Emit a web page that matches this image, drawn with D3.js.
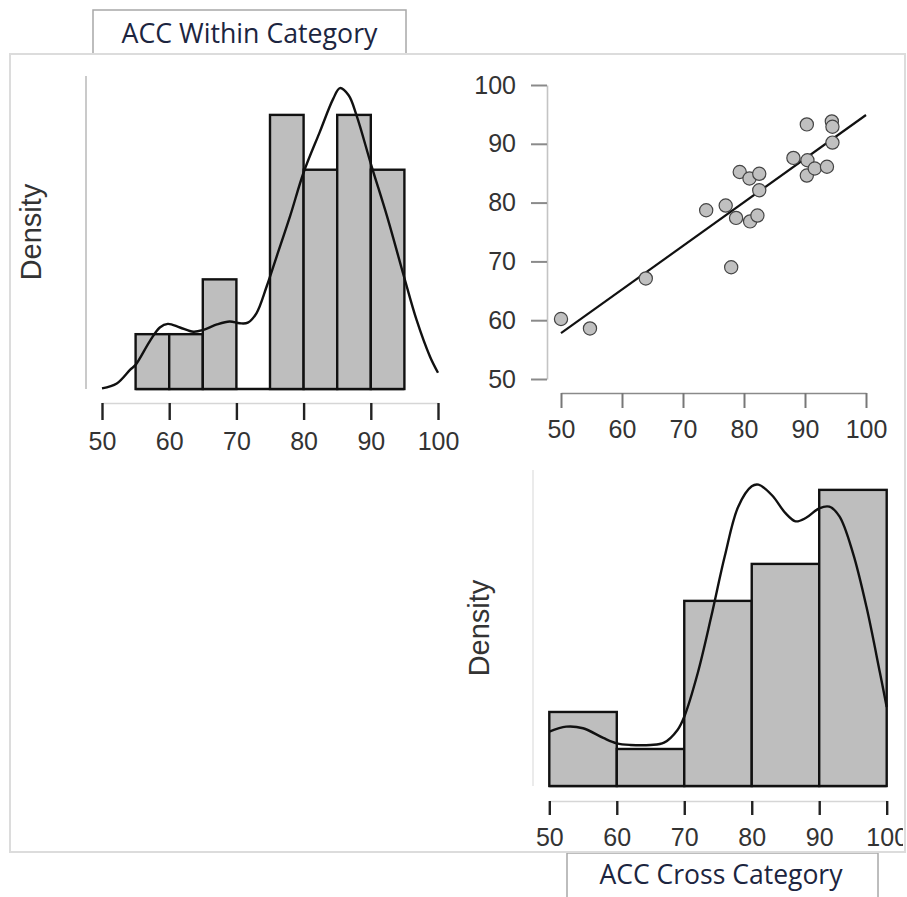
<!DOCTYPE html>
<html>
<head>
<meta charset="utf-8">
<script src="https://cdn.jsdelivr.net/npm/d3@7"></script>
<style>
  html, body { margin: 0; padding: 0; background: #fff; }
  svg { display: block; }
</style>
</head>
<body>
<svg id="chart" width="907" height="897"></svg>
<script>
// ---------------- DATA ----------------
const ticks = [50, 60, 70, 80, 90, 100];

// Histogram of ACC Within Category (bin edges, density per bin)
const withinBins = [55, 60, 65, 70, 75, 80, 85, 90, 95];
const withinDensity = [0.00909, 0.00909, 0.01818, 0, 0.04545, 0.03636, 0.04545, 0.03636];
// Kernel density curve of ACC Within Category
const withinKdeX = [50, 52.2, 54.2, 55, 57.1, 58.6, 59.8, 61.6, 63.6, 65.1, 67.1, 69, 70.5, 71.7, 73, 74.5, 76, 78, 80, 82.4, 84.4, 85.4, 86.7, 87.9, 90.1, 92.4, 95, 96.8, 98.8, 100];
const withinKdeY = [0.0001, 0.0009, 0.0032, 0.0040, 0.0079, 0.0102, 0.0108, 0.0102, 0.0095, 0.0098, 0.0107, 0.0112, 0.0109, 0.0110, 0.0126, 0.0170, 0.0220, 0.0287, 0.0359, 0.0426, 0.0481, 0.0499, 0.0487, 0.0453, 0.0370, 0.0287, 0.0184, 0.0115, 0.0054, 0.0027];

// Histogram of ACC Cross Category
const crossBins = [50, 60, 70, 80, 90, 100];
const crossDensity = [0.00909, 0.004545, 0.02273, 0.02727, 0.03636];
const crossKdeX = [50, 52.5, 55, 58, 60, 62, 65, 67, 69, 70, 72, 74, 76, 78, 80, 81, 83, 85, 86.5, 88, 90, 91.5, 93, 95, 97, 99, 100];
const crossKdeY = [0.00667, 0.00729, 0.00709, 0.0059, 0.00524, 0.00504, 0.00504, 0.00532, 0.00688, 0.00851, 0.01388, 0.0208, 0.0282, 0.0343, 0.0368, 0.0370, 0.0357, 0.0335, 0.0325, 0.0329, 0.0341, 0.0343, 0.0331, 0.0286, 0.0220, 0.0139, 0.0097];

// Scatter: x = ACC Cross Category, y = ACC Within Category
const scatterX = [50.0, 54.75, 63.9, 73.8, 77.0, 77.9, 78.7, 79.3, 80.9, 81.0, 82.2, 82.5, 82.5, 88.1, 90.3, 90.4, 90.3, 91.6, 93.6, 94.4, 94.5, 94.5];
const scatterY = [60.2, 58.6, 67.1, 78.7, 79.5, 69.0, 77.4, 85.2, 84.1, 76.8, 77.8, 84.9, 82.1, 87.6, 93.3, 87.2, 84.6, 85.8, 86.1, 93.8, 92.9, 90.2];
// Fitted regression line endpoints
const fitX = [50, 100];
const fitY = [57.8, 94.9];

const titleTop = "ACC Within Category";
const titleBottom = "ACC Cross Category";
const yLabel = "Density";

// ---------------- DRAW ----------------
const svg = d3.select("#chart");
svg.append("rect").attr("width", 907).attr("height", 897).attr("fill", "#fff");

const tickFont = "'Liberation Sans', Arial, sans-serif";

// Title boxes
function titleBox(x0, y0, x1, y1, text, tx, ty, tlen) {
  svg.append("rect").attr("x", x0).attr("y", y0).attr("width", x1 - x0).attr("height", y1 - y0)
    .attr("fill", "#fff").attr("stroke", "#a8a8a8").attr("stroke-width", 1.5);
  svg.append("text").attr("x", tx).attr("y", ty).attr("text-anchor", "middle")
    .attr("font-family", "'Open Sans', Lato, sans-serif").attr("font-size", 27)
    .attr("fill", "#1c2540").attr("textLength", tlen).attr("lengthAdjust", "spacingAndGlyphs")
    .text(text);
}
titleBox(93, 10, 406, 54, titleTop, 249.5, 43, 256);
titleBox(567, 853, 878, 898, titleBottom, 721, 884, 243);

// Outer frame
svg.append("rect").attr("x", 10).attr("y", 54).attr("width", 895).attr("height", 798)
  .attr("fill", "none").attr("stroke", "#dcdcdc").attr("stroke-width", 2);

svg.append("defs").append("clipPath").attr("id", "frameClip")
  .append("rect").attr("x", 10).attr("y", 54).attr("width", 893).attr("height", 798);

function styleAxis(g, domainColor, tickColor, tickWidth) {
  g.select(".domain").attr("stroke", domainColor).attr("stroke-width", 1.6);
  g.selectAll(".tick line").attr("stroke", tickColor).attr("stroke-width", tickWidth);
  g.selectAll(".tick text").attr("font-family", tickFont).attr("font-size", 25).attr("fill", "#333");
}

function histogram(opts) {
  const x = d3.scaleLinear().domain([50, 100]).range(opts.xRange);
  const y = d3.scaleLinear().domain([0, opts.yMax]).range(opts.yRange);
  const g = svg.append("g");
  // y axis line (no ticks)
  g.append("line").attr("x1", opts.yAxisX).attr("x2", opts.yAxisX)
    .attr("y1", opts.yRange[1]).attr("y2", opts.yRange[0])
    .attr("stroke", opts.yAxisColor).attr("stroke-width", 1.6);
  // bars
  const bars = opts.density.map((d, i) => ({x0: opts.bins[i], x1: opts.bins[i + 1], d}));
  // baseline under all bins (visible where a bin is empty)
  g.append("line")
    .attr("x1", x(opts.bins[0])).attr("x2", x(opts.bins[opts.bins.length - 1]))
    .attr("y1", y(0)).attr("y2", y(0))
    .attr("stroke", "#111").attr("stroke-width", 2.4);
  g.selectAll("rect.bar").data(bars.filter(b => b.d > 0)).enter().append("rect").attr("class", "bar")
    .attr("x", b => x(b.x0)).attr("width", b => x(b.x1) - x(b.x0))
    .attr("y", b => y(b.d)).attr("height", b => y(0) - y(b.d))
    .attr("fill", "#bebebe").attr("stroke", "#111").attr("stroke-width", 2.4);
  // density curve
  const pts = opts.kdeX.map((v, i) => [v, opts.kdeY[i]]);
  g.append("path").datum(pts)
    .attr("d", d3.line().x(p => x(p[0])).y(p => y(p[1])).curve(d3.curveCatmullRom.alpha(0.5)))
    .attr("fill", "none").attr("stroke", "#111").attr("stroke-width", 2.4);
  // x axis
  const outer = svg.append("g").attr("clip-path", "url(#frameClip)");
  const ax = outer.append("g").attr("transform", `translate(0,${opts.axisY})`)
    .call(d3.axisBottom(x).tickValues(ticks).tickSize(opts.tickSize).tickSizeOuter(0).tickPadding(opts.pad));
  styleAxis(ax, "#d6d6d6", "#222", 2.4);
  // y label
  svg.append("text").attr("transform", `translate(${opts.labelX},${opts.labelY}) rotate(-90)`)
    .attr("text-anchor", "middle").attr("font-family", tickFont).attr("font-size", 29)
    .attr("fill", "#333").text(yLabel);
}

histogram({
  xRange: [102, 438], yRange: [389, 76], yMax: 0.0519,
  bins: withinBins, density: withinDensity, kdeX: withinKdeX, kdeY: withinKdeY,
  yAxisX: 86, yAxisColor: "#bdbdbd", axisY: 403, tickSize: 17, pad: 12,
  labelX: 41, labelY: 232
});

histogram({
  xRange: [549.3, 886.7], yRange: [786, 470], yMax: 0.0388,
  bins: crossBins, density: crossDensity, kdeX: crossKdeX, kdeY: crossKdeY,
  yAxisX: 533, yAxisColor: "#e6e6e6", axisY: 801, tickSize: 14, pad: 13,
  labelX: 489, labelY: 628
});

// Scatter
const sx = d3.scaleLinear().domain([50, 100]).range([561, 866]);
const sy = d3.scaleLinear().domain([50, 100]).range([379, 85]);
const gx = svg.append("g").attr("transform", "translate(0,393)")
  .call(d3.axisBottom(sx).tickValues(ticks).tickSize(15).tickSizeOuter(0).tickPadding(12));
styleAxis(gx, "#8a8a8a", "#777", 2);
const gy = svg.append("g").attr("transform", "translate(547,0)")
  .call(d3.axisLeft(sy).tickValues(ticks).tickSize(16).tickSizeOuter(0).tickPadding(15));
styleAxis(gy, "#c4c4c4", "#8a8a8a", 2);

svg.append("line")
  .attr("x1", sx(fitX[0])).attr("y1", sy(fitY[0]))
  .attr("x2", sx(fitX[1])).attr("y2", sy(fitY[1]))
  .attr("stroke", "#111").attr("stroke-width", 2.2);

svg.selectAll("circle.pt").data(scatterX.map((v, i) => [v, scatterY[i]])).enter()
  .append("circle").attr("class", "pt")
  .attr("cx", p => sx(p[0])).attr("cy", p => sy(p[1])).attr("r", 6.6)
  .attr("fill", "#c0c0c0").attr("stroke", "#444").attr("stroke-width", 1.2);
</script>
</body>
</html>
